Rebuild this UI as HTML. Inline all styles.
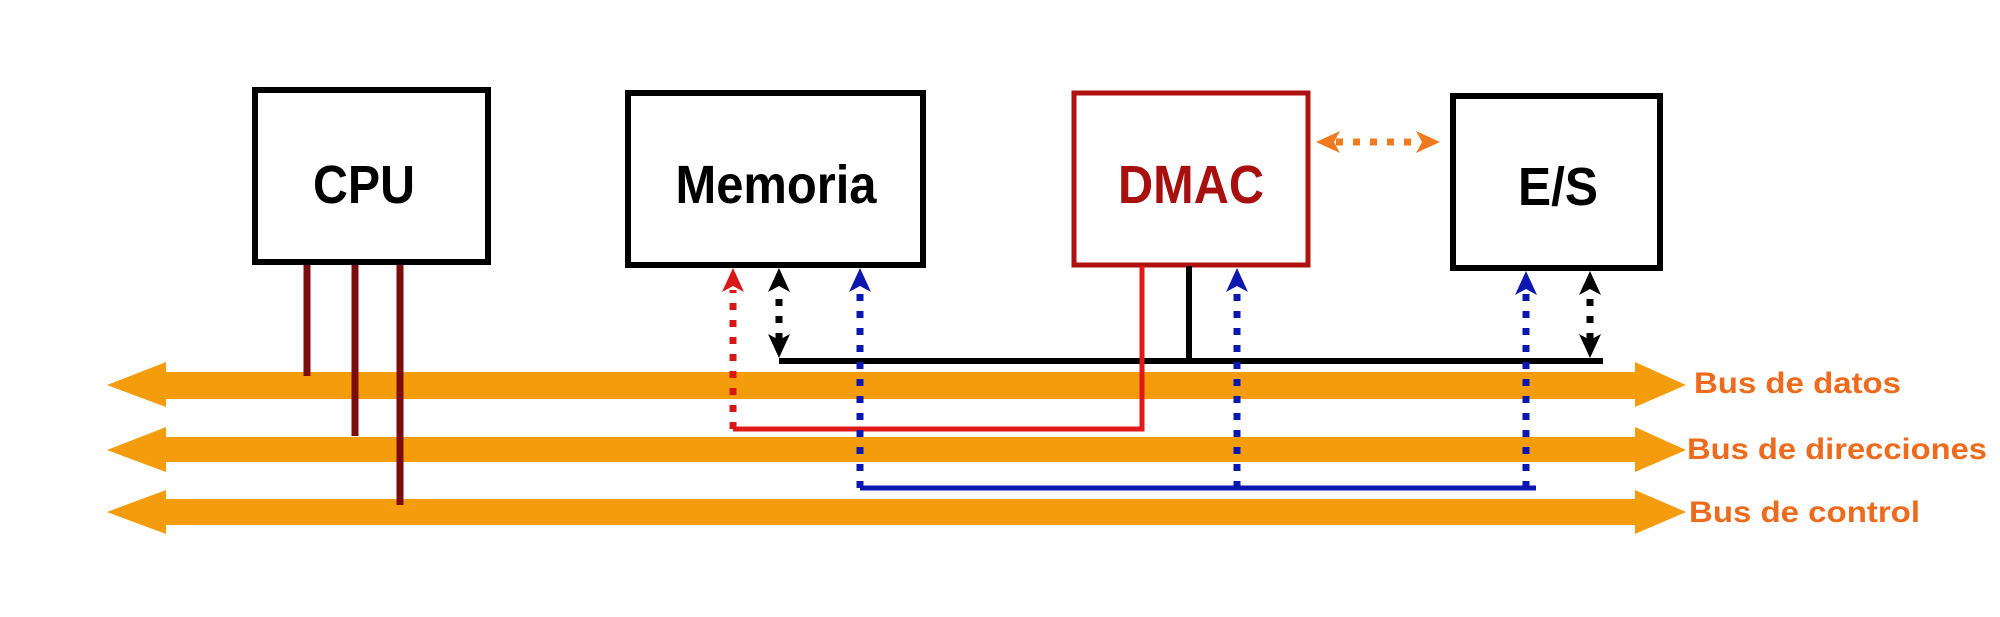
<!DOCTYPE html>
<html><head><meta charset="utf-8"><style>
html,body{margin:0;padding:0;background:#fff;}
svg{display:block;}
text{font-family:"Liberation Sans",sans-serif;font-weight:bold;}
</style></head><body>
<svg width="2000" height="617" viewBox="0 0 2000 617" xmlns="http://www.w3.org/2000/svg">
<!-- buses -->
<g fill="#f59c0c">
<polygon points="107,385 166,362 166,372 1635,372 1635,362 1686,385 1635,407 1635,399 166,399 166,407"/>
<polygon points="107,450 166,427 166,437 1635,437 1635,427 1686,450 1635,472 1635,462 166,462 166,472"/>
<polygon points="107,512 166,490 166,499 1635,499 1635,490 1686,512 1635,534 1635,525 166,525 166,534"/>
</g>
<!-- CPU lines -->
<g stroke="#7a0c0c" stroke-width="7">
<line x1="307" y1="260" x2="307" y2="376"/>
<line x1="355" y1="260" x2="355" y2="436"/>
<line x1="400" y1="260" x2="400" y2="505"/>
</g>
<!-- boxes -->
<rect x="255" y="90" width="233" height="172" fill="#fff" stroke="#000" stroke-width="6"/>
<rect x="628" y="93" width="295" height="172" fill="#fff" stroke="#000" stroke-width="6"/>
<rect x="1074" y="93" width="234" height="172" fill="#fff" stroke="#b01212" stroke-width="5"/>
<rect x="1453" y="96" width="207" height="172" fill="#fff" stroke="#000" stroke-width="6"/>
<text x="364" y="203" font-size="54" text-anchor="middle" textLength="102" lengthAdjust="spacingAndGlyphs">CPU</text>
<text x="776" y="203" font-size="54" text-anchor="middle" textLength="201" lengthAdjust="spacingAndGlyphs">Memoria</text>
<text x="1191" y="203" font-size="54" text-anchor="middle" fill="#a80f0f" textLength="146" lengthAdjust="spacingAndGlyphs">DMAC</text>
<text x="1558" y="205" font-size="54" text-anchor="middle" textLength="80" lengthAdjust="spacingAndGlyphs">E/S</text>
<!-- solid connectors -->
<polyline points="779,361 1603,361" fill="none" stroke="#000" stroke-width="6"/>
<line x1="1189" y1="266" x2="1189" y2="361" stroke="#000" stroke-width="6"/>
<polyline points="733,429 1142,429 1142,266" fill="none" stroke="#e01818" stroke-width="5"/>
<polyline points="860,488 1536,488" fill="none" stroke="#0a18b0" stroke-width="5"/>
<!-- dotted -->
<g stroke-width="7" stroke-dasharray="7 10" fill="none">
<line x1="733" y1="429" x2="733" y2="290" stroke="#d81818"/>
<line x1="779" y1="340" x2="779" y2="290" stroke="#000"/>
<line x1="860" y1="488" x2="860" y2="290" stroke="#0a18b0"/>
<line x1="1237" y1="488" x2="1237" y2="290" stroke="#0a18b0"/>
<line x1="1526" y1="488" x2="1526" y2="290" stroke="#0a18b0"/>
<line x1="1590" y1="340" x2="1590" y2="290" stroke="#000"/>
<line x1="1336" y1="142" x2="1420" y2="142" stroke="#f07a20"/>
</g>
<!-- arrowheads -->
<polygon points="733,268 744,292 733,286 722,292" fill="#d81818"/>
<polygon points="779,268 790,292 779,286 768,292" fill="#000"/>
<polygon points="779,358 790,334 779,340 768,334" fill="#000"/>
<polygon points="860,268 871,292 860,286 849,292" fill="#0a18b0"/>
<polygon points="1237,268 1248,292 1237,286 1226,292" fill="#0a18b0"/>
<polygon points="1526,271 1537,295 1526,289 1515,295" fill="#0a18b0"/>
<polygon points="1590,271 1601,295 1590,289 1579,295" fill="#000"/>
<polygon points="1590,358 1601,334 1590,340 1579,334" fill="#000"/>
<polygon points="1316,142 1340,131 1334,142 1340,153" fill="#f07a20"/>
<polygon points="1440,142 1416,131 1422,142 1416,153" fill="#f07a20"/>
<!-- labels -->
<g fill="#ee6a1c" font-size="30">
<text x="1694" y="393" textLength="207" lengthAdjust="spacingAndGlyphs">Bus de datos</text>
<text x="1687" y="459" textLength="300" lengthAdjust="spacingAndGlyphs">Bus de direcciones</text>
<text x="1689" y="522" textLength="231" lengthAdjust="spacingAndGlyphs">Bus de control</text>
</g>
</svg>
</body></html>
